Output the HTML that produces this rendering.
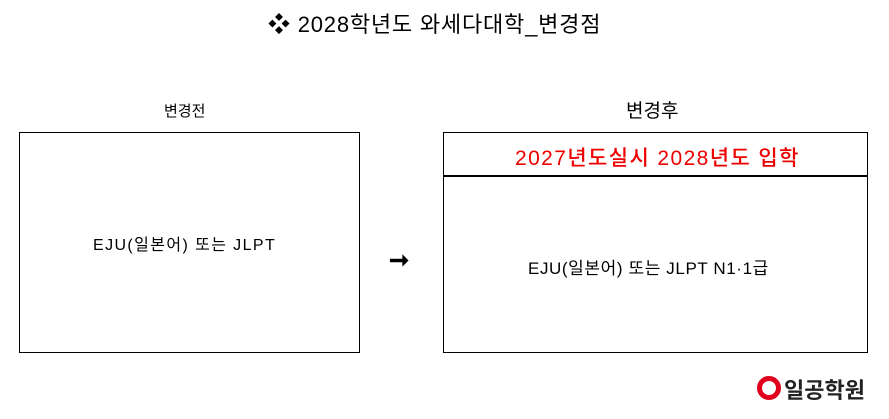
<!DOCTYPE html>
<html><head><meta charset="utf-8"><style>
body{margin:0;width:889px;height:419px;background:#fff;position:relative;overflow:hidden;font-family:"Liberation Sans","Noto Sans CJK KR",sans-serif;color:#000}
.a{position:absolute;white-space:nowrap}
.box{position:absolute;border:1.5px solid #000;box-sizing:border-box}
</style></head><body>
<div class="a" style="left:268px;top:7px;font-size:22px;letter-spacing:0.8px;">❖ 2028학년도 와세다대학_변경점</div>
<div class="a" style="left:164px;top:100px;font-size:15px;">변경전</div>
<div class="a" style="left:626px;top:96px;font-size:19px;">변경후</div>
<div class="box" style="left:19px;top:132px;width:341px;height:221px;"></div>
<div class="a" style="left:93px;top:231px;font-size:16px;letter-spacing:1.4px;">EJU(일본어) 또는 JLPT</div>
<div class="a" style="left:389px;top:246px;font-size:24px;font-weight:bold;">➞</div>
<div class="box" style="left:443px;top:132px;width:425px;height:221px;"></div>
<div style="position:absolute;left:443px;top:175px;width:425px;height:2px;background:#000"></div>
<div class="a" style="left:515px;top:142px;font-size:21px;letter-spacing:1.4px;color:#e00;font-weight:500;">2027년도실시 2028년도 입학</div>
<div class="a" style="left:528px;top:254px;font-size:17px;letter-spacing:0.6px;">EJU(일본어) 또는 JLPT N1·1급</div>
<div style="position:absolute;left:757px;top:376px;width:24px;height:24px;border:5px solid #e0001b;border-radius:50%;box-sizing:border-box"></div>
<div class="a" style="left:784px;top:373px;font-size:22px;font-weight:bold;color:#222;">일공학원</div>
</body></html>
